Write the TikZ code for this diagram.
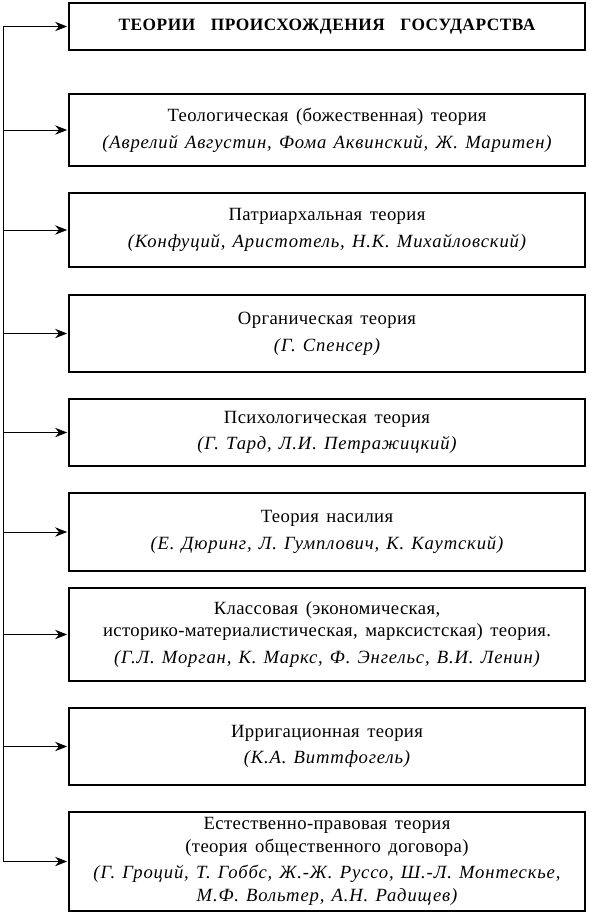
\documentclass[tikz,border=0pt]{standalone}
\usepackage{fontspec}
\setmainfont[LetterSpace=2,WordSpace=1.5]{Liberation Serif}
\newfontfamily\authfont[LetterSpace=4.5,WordSpace=1.3]{Liberation Serif}
\newfontfamily\headfont[LetterSpace=3,WordSpace=1.6]{Liberation Serif}
\usetikzlibrary{arrows.meta}
\usetikzlibrary{positioning}

\newcommand{\auth}[1]{{\authfont\itshape #1}}

\tikzset{
  theory/.style={draw, line width=1.4pt, minimum width=387pt, align=center,
    inner sep=2pt, font=\fontsize{14}{17}\selectfont},
  feed/.style={-{Stealth[length=9pt,width=7pt]}, line width=0.6pt, shorten >=0.7pt},
}

\begin{document}
\begin{tikzpicture}[x=0.75pt, y=-0.75pt]
    \useasboundingbox (0,0) rectangle (591,914);

    % title
    \node[theory, minimum height=35pt, font=\fontsize{13}{15}\headfont\bfseries] (t0) at (327,26.5)
      {ТЕОРИИ \ ПРОИСХОЖДЕНИЯ \ ГОСУДАРСТВА};

    % the theories
    \node[theory, minimum height=54pt] (t1) at (327,130)
      {Теологическая (божественная) теория\\[3pt] \auth{(Аврелий Августин, Фома Аквинский, Ж. Маритен)}};
    \node[theory, minimum height=55.5pt] (t2) at (327,230)
      {Патриархальная теория\\[3pt] \auth{(Конфуций, Аристотель, Н.К. Михайловский)}};
    \node[theory, minimum height=58pt] (t3) at (327,333.5)
      {Органическая теория\\[3pt] \auth{(Г. Спенсер)}};
    \node[theory, minimum height=50pt] (t4) at (327,432.5)
      {Психологическая теория\\[3pt] \auth{(Г. Тард, Л.И. Петражицкий)}};
    \node[theory, minimum height=58.5pt] (t5) at (327,532)
      {Теория насилия\\[3pt] \auth{(Е. Дюринг, Л. Гумплович, К. Каутский)}};
    \node[theory, minimum height=70pt] (t6) at (327,634.5)
      {Классовая (экономическая,\\ историко-материалистическая, марксистская) теория.\\[3pt]
       \auth{(Г.Л. Морган, К. Маркс, Ф. Энгельс, В.И. Ленин)}};
    \node[theory, minimum height=58pt] (t7) at (327,746.5)
      {Ирригационная теория\\[3pt] \auth{(К.А. Виттфогель)}};
    \node[theory, minimum height=74pt] (t8) at (327,861.5)
      {Естественно-правовая теория\\ (теория общественного договора)\\[3pt]
       \auth{(Г. Гроций, Т. Гоббс, Ж.-Ж. Руссо, Ш.-Л. Монтескье,}\\ \auth{М.Ф. Вольтер, А.Н. Радищев)}};

    % spine on the left
    \coordinate (spine) at (3,0);
    \draw[line width=0.6pt] (spine |- t0.west) -- (spine |- t8.west);
    \foreach \t in {t0,t1,t2,t3,t4,t5,t6,t7,t8}
      \draw[feed] (spine |- \t.west) -- (\t.west);
\end{tikzpicture}
\end{document}
